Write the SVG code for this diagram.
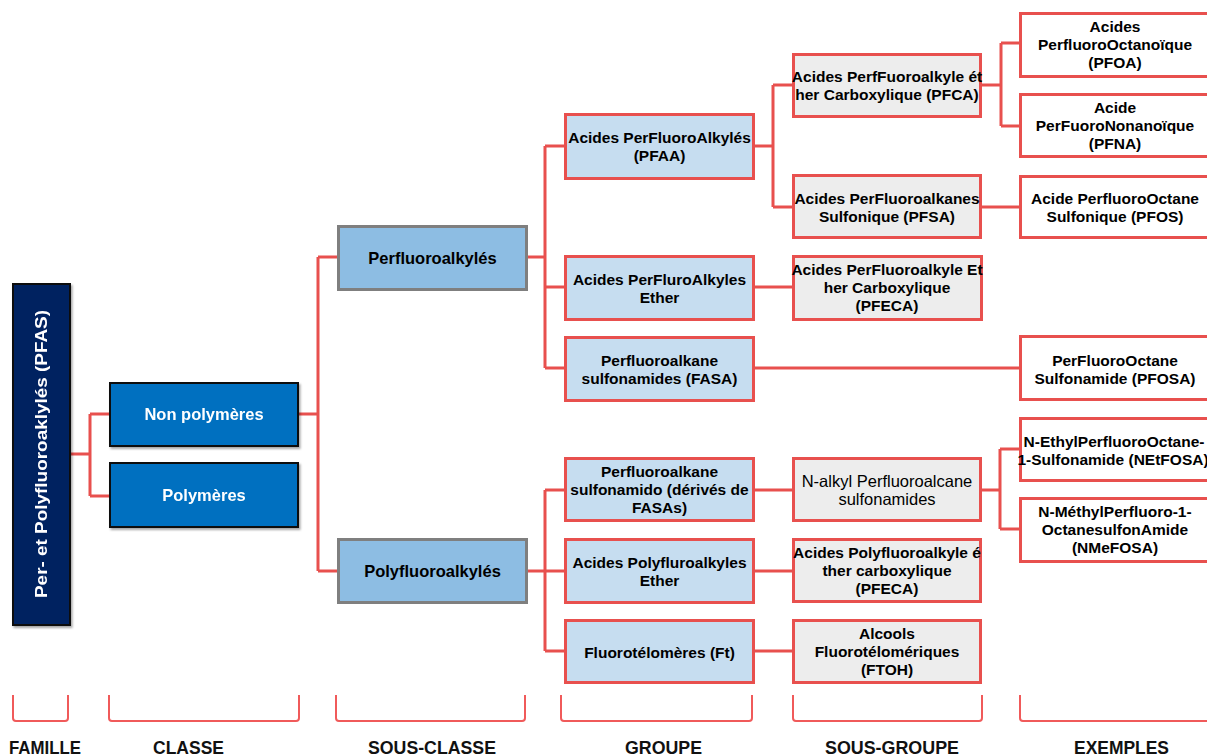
<svg xmlns="http://www.w3.org/2000/svg" width="1207" height="756" viewBox="0 0 1207 756">
<defs>
<filter id="sh" x="-10%" y="-10%" width="130%" height="130%">
<feDropShadow dx="1.5" dy="2" stdDeviation="1.2" flood-color="#000" flood-opacity="0.35"/>
</filter>
<style>
.t{font-family:"Liberation Sans",Arial,sans-serif;font-weight:bold;font-size:15.5px;fill:#000;text-anchor:middle}
.n{font-weight:normal;font-size:16.5px}
.w{fill:#fff;font-size:16.5px}
.sc{font-size:16.5px}
.lab{font-family:"Liberation Sans",Arial,sans-serif;font-weight:bold;font-size:19px;fill:#111;text-anchor:middle}
.red{stroke:#E8504E;stroke-width:3}
.grp{fill:#C6DDF0}
.sg{fill:#EDEDED}
.ex{fill:#FFFFFF}
.scl{fill:#8DBDE3;stroke:#7F7F7F;stroke-width:3}
.cls{fill:#0070C0;stroke:#0A0A0A;stroke-width:2}
.fam{fill:#002060;stroke:#0A0A0A;stroke-width:2}
.con{fill:none;stroke:#E8504E;stroke-width:3}
.br{fill:none;stroke:#F05A5A;stroke-width:2}
</style>
</defs>
<rect width="1207" height="756" fill="#fff"/>

<g id="connectors">
<path class="con" d="M71,454H90M90,414V496M90,414H109M90,496H109"/>
<path class="con" d="M299,414H318M318,257V571M318,257H337M318,571H337"/>
<path class="con" d="M528,257H545M545,146V368M545,146H564M545,287H564M545,368H564"/>
<path class="con" d="M528,571H545M545,490V651M545,490H564M545,571H564M545,651H564"/>
<path class="con" d="M755,146H773M773,85V207M773,85H792M773,207H792"/>
<path class="con" d="M982,85H1001M1001,43V126M1001,43H1019M1001,126H1019"/>
<path class="con" d="M982,207H1019"/>
<path class="con" d="M755,287H792"/>
<path class="con" d="M755,368H1019"/>
<path class="con" d="M755,490H792"/>
<path class="con" d="M982,490H1000M1000,449V529M1000,449H1019M1000,529H1019"/>
<path class="con" d="M755,571H792"/>
<path class="con" d="M755,651H792"/>
</g>

<g id="pfas" filter="url(#sh)">
<rect class="fam" x="13" y="284" width="57" height="341"/>
<text class="t w" transform="translate(47,454) rotate(-90)" x="0" y="0" textLength="288" lengthAdjust="spacingAndGlyphs">Per- et Polyfluoroaklylés (PFAS)</text>
</g>

<g id="non-polymeres" filter="url(#sh)">
<rect class="cls" x="110" y="383" width="188" height="63"/>
<text class="t w" x="204" y="420">Non polymères</text>
</g>
<g id="polymeres" filter="url(#sh)">
<rect class="cls" x="110" y="463" width="188" height="64"/>
<text class="t w" x="204" y="501">Polymères</text>
</g>

<g id="perfluoroalkyles">
<rect class="scl" x="338.5" y="226.5" width="188" height="63"/>
<text class="t sc" x="432.5" y="264">Perfluoroalkylés</text>
</g>
<g id="polyfluoroalkyles">
<rect class="scl" x="338.5" y="539.5" width="188" height="63"/>
<text class="t sc" x="432.5" y="577">Polyfluoroalkylés</text>
</g>

<g id="pfaa">
<rect class="grp red" x="565.5" y="114.5" width="188" height="64"/>
<text class="t" x="659.5" y="143">Acides PerFluoroAlkylés</text>
<text class="t" x="659.5" y="161">(PFAA)</text>
</g>
<g id="pfaa-ether">
<rect class="grp red" x="565.5" y="256.5" width="188" height="63"/>
<text class="t" x="659.5" y="285">Acides PerFluroAlkyles</text>
<text class="t" x="659.5" y="303">Ether</text>
</g>
<g id="fasa">
<rect class="grp red" x="565.5" y="337.5" width="188" height="63"/>
<text class="t" x="659.5" y="366">Perfluoroalkane</text>
<text class="t" x="659.5" y="384">sulfonamides (FASA)</text>
</g>
<g id="sulfonamido">
<rect class="grp red" x="565.5" y="458.5" width="188" height="62"/>
<text class="t" x="659.5" y="476.5">Perfluoroalkane</text>
<text class="t" x="659.5" y="494.5">sulfonamido (dérivés de</text>
<text class="t" x="659.5" y="512.5">FASAs)</text>
</g>
<g id="poly-ether">
<rect class="grp red" x="565.5" y="539.5" width="188" height="63"/>
<text class="t" x="659.5" y="568">Acides Polyfluroalkyles</text>
<text class="t" x="659.5" y="586">Ether</text>
</g>
<g id="fluorotelomeres">
<rect class="grp red" x="565.5" y="620.5" width="188" height="62"/>
<text class="t" x="659.5" y="657.5">Fluorotélomères (Ft)</text>
</g>

<g id="pfca">
<rect class="sg red" x="793.5" y="54.5" width="187" height="62"/>
<text class="t" x="887" y="82">Acides PerfFuoroalkyle ét</text>
<text class="t" x="887" y="100">her Carboxylique (PFCA)</text>
</g>
<g id="pfsa">
<rect class="sg red" x="793.5" y="175.5" width="187" height="62"/>
<text class="t" x="887" y="203.5">Acides PerFluoroalkanes</text>
<text class="t" x="887" y="221.5">Sulfonique (PFSA)</text>
</g>
<g id="pfeca">
<rect class="sg red" x="793.5" y="256.5" width="188" height="63"/>
<text class="t" x="887" y="275">Acides PerFluoroalkyle Et</text>
<text class="t" x="887" y="293">her Carboxylique</text>
<text class="t" x="887" y="311">(PFECA)</text>
</g>
<g id="n-alkyl">
<rect class="sg red" x="793.5" y="458.5" width="187" height="62"/>
<text class="t n" x="887" y="487">N-alkyl  Perfluoroalcane</text>
<text class="t n" x="887" y="505">sulfonamides</text>
</g>
<g id="pfeca-poly">
<rect class="sg red" x="793.5" y="539.5" width="187" height="62"/>
<text class="t" x="887" y="557.5">Acides Polyfluoroalkyle é</text>
<text class="t" x="887" y="575.5">ther carboxylique</text>
<text class="t" x="887" y="593.5">(PFECA)</text>
</g>
<g id="ftoh">
<rect class="sg red" x="793.5" y="620.5" width="187" height="62"/>
<text class="t" x="887" y="639">Alcools</text>
<text class="t" x="887" y="657">Fluorotélomériques</text>
<text class="t" x="887" y="675">(FTOH)</text>
</g>

<g id="pfoa">
<rect class="ex red" x="1020.5" y="13.5" width="192" height="63"/>
<text class="t" x="1115" y="32">Acides</text>
<text class="t" x="1115" y="50">PerfluoroOctanoïque</text>
<text class="t" x="1115" y="68">(PFOA)</text>
</g>
<g id="pfna">
<rect class="ex red" x="1020.5" y="94.5" width="192" height="62"/>
<text class="t" x="1115" y="112.5">Acide</text>
<text class="t" x="1115" y="130.5">PerFuoroNonanoïque</text>
<text class="t" x="1115" y="148.5">(PFNA)</text>
</g>
<g id="pfos">
<rect class="ex red" x="1020.5" y="176.5" width="192" height="61"/>
<text class="t" x="1115" y="204">Acide PerfluoroOctane</text>
<text class="t" x="1115" y="222">Sulfonique (PFOS)</text>
</g>
<g id="pfosa">
<rect class="ex red" x="1020.5" y="336.5" width="192" height="63"/>
<text class="t" x="1115" y="365.5">PerFluoroOctane</text>
<text class="t" x="1115" y="383.5">Sulfonamide (PFOSA)</text>
</g>
<g id="netfosa">
<rect class="ex red" x="1020.5" y="418.5" width="192" height="62"/>
<text class="t" x="1114" y="446.5">N-EthylPerfluoroOctane-</text>
<text class="t" x="1113" y="464.5">1-Sulfonamide (NEtFOSA)</text>
</g>
<g id="nmefosa">
<rect class="ex red" x="1020.5" y="498.5" width="192" height="63"/>
<text class="t" x="1115" y="517">N-MéthylPerfluoro-1-</text>
<text class="t" x="1115" y="535">OctanesulfonAmide</text>
<text class="t" x="1115" y="553">(NMeFOSA)</text>
</g>

<g id="legend">
<path class="br" d="M13,695V718Q13,721 16,721H65Q68,721 68,718V695"/>
<path class="br" d="M109,695V718Q109,721 112,721H296Q299,721 299,718V695"/>
<path class="br" d="M336,695V718Q336,721 339,721H522Q525,721 525,718V695"/>
<path class="br" d="M561,695V718Q561,721 564,721H749Q752,721 752,718V695"/>
<path class="br" d="M793,695V718Q793,721 796,721H979Q982,721 982,718V695"/>
<path class="br" d="M1020,695V718Q1020,721 1023,721H1210"/>
<text class="lab" x="45" y="754" textLength="72" lengthAdjust="spacingAndGlyphs">FAMILLE</text>
<text class="lab" x="188.5" y="754" textLength="71" lengthAdjust="spacingAndGlyphs">CLASSE</text>
<text class="lab" x="432" y="754" textLength="128" lengthAdjust="spacingAndGlyphs">SOUS-CLASSE</text>
<text class="lab" x="663.5" y="754" textLength="77" lengthAdjust="spacingAndGlyphs">GROUPE</text>
<text class="lab" x="892" y="754" textLength="134" lengthAdjust="spacingAndGlyphs">SOUS-GROUPE</text>
<text class="lab" x="1121.5" y="754" textLength="95" lengthAdjust="spacingAndGlyphs">EXEMPLES</text>
</g>
</svg>
